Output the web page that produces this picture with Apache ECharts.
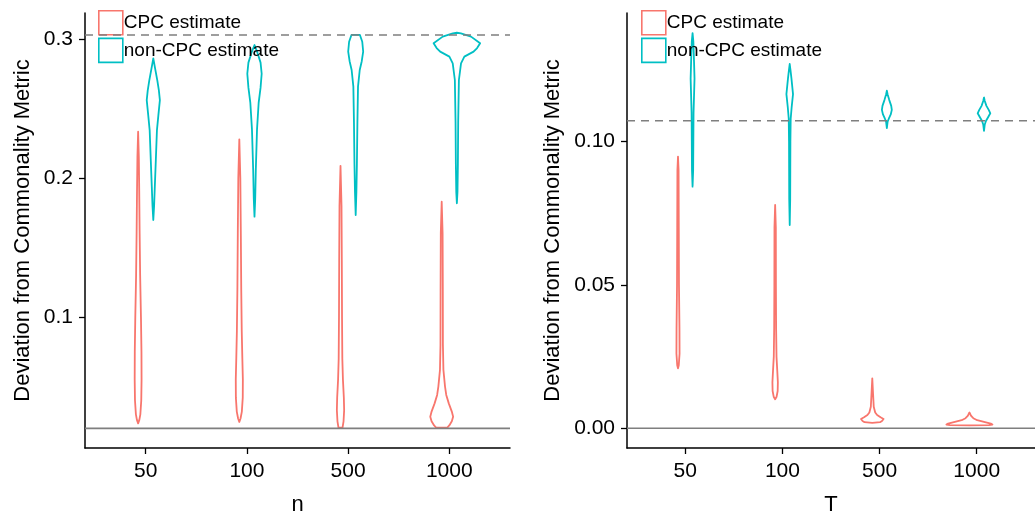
<!DOCTYPE html>
<html>
<head>
<meta charset="utf-8">
<script src="https://cdn.jsdelivr.net/npm/echarts@6/dist/echarts.min.js"></script>
<style>html,body{margin:0;padding:0;background:#fff}#c{width:1035px;height:515px}</style>
</head>
<body>
<div id="c"></div>
<script>
// ---------- data ----------
const categories = ['50', '100', '500', '1000'];
const seriesNames = ['CPC estimate', 'non-CPC estimate'];
const leftYTicks = [0.1, 0.2, 0.3];
const rightYTicks = [0.00, 0.05, 0.10];
const leftRefSolid = 0.0199, leftRefDashed = 0.3029;
const rightRefSolid = 0.0, rightRefDashed = 0.1073;

// violin profiles: [value, density half-width] per category
const nCpc = [
  [[0.0235,0],[0.026,0.012],[0.03,0.022],[0.04,0.031],[0.055,0.034],[0.075,0.033],[0.1,0.028],[0.13,0.02],[0.16,0.015],[0.19,0.011],[0.215,0.007],[0.2333,0]],
  [[0.0245,0],[0.027,0.012],[0.032,0.025],[0.042,0.034],[0.055,0.035],[0.07,0.03],[0.09,0.024],[0.12,0.019],[0.16,0.015],[0.2,0.01],[0.2278,0]],
  [[0.0205,0.02],[0.025,0.03],[0.033,0.036],[0.042,0.033],[0.055,0.024],[0.07,0.018],[0.1,0.015],[0.14,0.013],[0.18,0.01],[0.2088,0]],
  [[0.0205,0.055],[0.022,0.075],[0.025,0.1],[0.0283,0.113],[0.032,0.1],[0.0379,0.07],[0.044,0.045],[0.05,0.033],[0.062,0.017],[0.08,0.012],[0.12,0.011],[0.16,0.009],[0.183,0]]
];
const nNonCpc = [
  [[0.1698,0],[0.18,0.008],[0.194,0.015],[0.213,0.025],[0.2345,0.036],[0.245,0.05],[0.256,0.065],[0.263,0.055],[0.27,0.04],[0.278,0.02],[0.2861,0]],
  [[0.1722,0],[0.185,0.007],[0.206,0.013],[0.235,0.025],[0.254,0.041],[0.265,0.06],[0.275,0.071],[0.283,0.06],[0.29,0.03],[0.2957,0]],
  [[0.1734,0],[0.19,0.007],[0.21,0.012],[0.24,0.017],[0.2657,0.023],[0.2777,0.04],[0.284,0.06],[0.291,0.074],[0.298,0.065],[0.3029,0.042]],
  [[0.1818,0],[0.19,0.006],[0.21,0.01],[0.24,0.013],[0.2705,0.02],[0.2825,0.041],[0.2873,0.074],[0.2909,0.165],[0.2935,0.2],[0.2969,0.23],[0.3017,0.14],[0.3041,0.04],[0.3045,0]]
];
const tCpc = [
  [[0.0209,0],[0.022,0.008],[0.026,0.016],[0.035,0.015],[0.05,0.01],[0.07,0.008],[0.09,0.006],[0.0948,0]],
  [[0.0101,0],[0.011,0.015],[0.013,0.026],[0.016,0.028],[0.02,0.022],[0.025,0.014],[0.035,0.01],[0.05,0.008],[0.07,0.007],[0.0779,0]],
  [[0.0019,0],[0.0021,0.08],[0.0025,0.1],[0.0032,0.116],[0.0038,0.085],[0.0046,0.05],[0.0055,0.03],[0.0075,0.015],[0.012,0.008],[0.0174,0]],
  [[0.001,0],[0.0011,0.2],[0.0013,0.237],[0.0016,0.22],[0.0022,0.15],[0.0028,0.08],[0.0035,0.04],[0.0042,0.02],[0.0048,0.01],[0.0055,0]]
];
const tNonCpc = [
  [[0.0843,0],[0.09,0.006],[0.1,0.008],[0.11,0.01],[0.116,0.015],[0.122,0.02],[0.128,0.015],[0.135,0.008],[0.1379,0]],
  [[0.0709,0],[0.08,0.005],[0.09,0.006],[0.1,0.007],[0.108,0.01],[0.112,0.02],[0.1166,0.034],[0.122,0.018],[0.125,0.008],[0.1271,0]],
  [[0.1047,0],[0.107,0.008],[0.108,0.02],[0.1095,0.04],[0.1111,0.051],[0.1125,0.045],[0.1145,0.025],[0.1165,0.008],[0.1178,0]],
  [[0.1038,0],[0.106,0.008],[0.1072,0.02],[0.1087,0.045],[0.1099,0.065],[0.111,0.05],[0.1125,0.025],[0.1142,0.008],[0.1154,0]]
];

// ---------- chart ----------
const RED = '#F8766D', TEAL = '#00BFC4', GREY = '#7F7F7F';
const FONT = "'Liberation Sans', Arial, sans-serif";
const DODGE = 0.075;

function violinSeries(name, profiles, offset, color, idx) {
  return {
    name: name, type: 'custom', xAxisIndex: idx, yAxisIndex: idx,
    itemStyle: { color: color },
    data: profiles.map((p, i) => [i + 1, p[0][0]]),
    encode: { x: 0, y: 1 },
    renderItem: function (params, api) {
      const prof = profiles[params.dataIndex];
      const cx = params.dataIndex + 1 + offset;
      const right = prof.map(([v, w]) => api.coord([cx + w, v]));
      const left = prof.slice().reverse().map(([v, w]) => api.coord([cx - w, v]));
      return {
        type: 'polygon',
        shape: { points: right.concat(left) },
        style: { fill: 'none', stroke: color, lineWidth: 1.8, lineJoin: 'round' }
      };
    },
    z: 2
  };
}
function refLine(v, dashed, idx) {
  return {
    type: 'line', xAxisIndex: idx, yAxisIndex: idx, silent: true, symbol: 'none',
    data: [[0.4, v], [4.6, v]],
    lineStyle: { color: GREY, width: 1.6, type: dashed ? [8, 6] : 'solid' },
    z: 5, legendHoverLink: false
  };
}
function xAxis(idx, name) {
  return {
    type: 'value', gridIndex: idx, min: 0.4, max: 4.6,
    name: name, nameLocation: 'middle', nameGap: 46,
    nameTextStyle: { fontSize: 22, color: '#000', fontFamily: FONT },
    axisLine: { show: true, onZero: false, lineStyle: { color: '#000', width: 1.5 } },
    axisTick: { show: true, length: 6, customValues: [1, 2, 3, 4], lineStyle: { color: '#000', width: 1.3 } },
    axisLabel: { customValues: [1, 2, 3, 4], formatter: v => categories[Math.round(v) - 1], fontSize: 21, color: '#000', fontFamily: FONT, margin: 13 },
    splitLine: { show: false }
  };
}
function yAxis(idx, min, max, ticks, digits, gap) {
  return {
    type: 'value', gridIndex: idx, min: min, max: max,
    name: 'Deviation from Commonality Metric', nameLocation: 'middle', nameGap: gap,
    nameTextStyle: { fontSize: 22, color: '#000', fontFamily: FONT },
    axisLine: { show: true, onZero: false, lineStyle: { color: '#000', width: 1.5 } },
    axisTick: { show: true, length: 6, customValues: ticks, lineStyle: { color: '#000', width: 1.3 } },
    axisLabel: { customValues: ticks, formatter: v => v.toFixed(digits), fontSize: 21, color: '#000', fontFamily: FONT, margin: 12 },
    splitLine: { show: false }
  };
}
function legend(left) {
  return {
    left: left, top: 10, padding: 0, orient: 'vertical', itemWidth: 24, itemHeight: 24, itemGap: 2,
    icon: 'rect', selectedMode: false,
    textStyle: { fontSize: 19, color: '#000', fontFamily: FONT, padding: [0, 0, 0, -4] },
    data: [
      { name: seriesNames[0], itemStyle: { color: 'rgba(0,0,0,0)', borderColor: RED, borderWidth: 1.6 } },
      { name: seriesNames[1], itemStyle: { color: 'rgba(0,0,0,0)', borderColor: TEAL, borderWidth: 1.6 } }
    ]
  };
}

const chart = echarts.init(document.getElementById('c'), null, { renderer: 'canvas' });
chart.setOption({
  animation: false,
  backgroundColor: '#fff',
  grid: [
    { left: 85, right: 525, top: 13, bottom: 67, outerBoundsMode: 'none', containLabel: false },
    { left: 627, right: 0, top: 13, bottom: 67, outerBoundsMode: 'none', containLabel: false }
  ],
  legend: [legend(98), legend(641)],
  xAxis: [xAxis(0, 'n'), xAxis(1, 'T')],
  yAxis: [
    yAxis(0, 0.0058, 0.3187, leftYTicks, 1, 51),
    yAxis(1, -0.0069, 0.1449, rightYTicks, 2, 63)
  ],
  series: [
    violinSeries(seriesNames[0], nCpc, -DODGE, RED, 0),
    violinSeries(seriesNames[1], nNonCpc, DODGE, TEAL, 0),
    violinSeries(seriesNames[0], tCpc, -DODGE, RED, 1),
    violinSeries(seriesNames[1], tNonCpc, DODGE, TEAL, 1),
    refLine(leftRefSolid, false, 0),
    refLine(leftRefDashed, true, 0),
    refLine(rightRefSolid, false, 1),
    refLine(rightRefDashed, true, 1)
  ]
});
</script>
</body>
</html>
